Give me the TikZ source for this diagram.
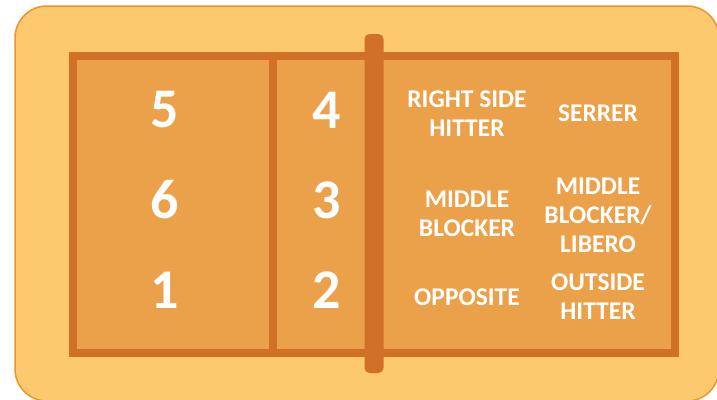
\documentclass[tikz,border=0pt]{standalone}
\usepackage{fontspec}
\setmainfont{Carlito}
\usepackage{tikz}
\usetikzlibrary{positioning, calc}
\definecolor{fieldfill}{RGB}{253, 201, 110}
\definecolor{fieldedge}{RGB}{240, 146, 42}
\definecolor{courtfill}{RGB}{235, 160, 74}
\definecolor{courtedge}{RGB}{209, 113, 39}

\begin{document}
\begin{tikzpicture}[
    x=1pt, y=-1pt,
    field/.style={draw=fieldedge, line width=1.5pt, fill=fieldfill, rounded corners=32pt},
    court/.style={draw=courtedge, line width=8pt, fill=courtfill, rectangle, minimum width=602pt, minimum height=297.5pt, inner sep=0pt, outer sep=0pt},
    netbar/.style={fill=courtedge, rectangle, rounded corners=5pt, minimum width=19pt, minimum height=339pt, inner sep=0pt},
    number/.style={text=white, font=\bfseries\fontsize{56}{60}\selectfont, inner sep=0pt},
    role/.style={text=white, align=center, font=\bfseries\fontsize{25.5}{29}\selectfont, inner sep=0pt}
]

    \useasboundingbox (0,0) rectangle (717,399);
    \clip (0,0) rectangle (717,399);
    \draw[field] (15,6) rectangle (719,401);

    \node[court] (court) at (374,204.25) {};
    \draw[courtedge, line width=7.5pt] ([xshift=200pt]court.north west) -- ([xshift=200pt]court.south west);
    \node[netbar] (net) at (374,203.5) {};

    % back row / front row numbers
    \node[number] (p5) at (165,110) {5};
    \node[number] (p6) at (165,200) {6};
    \node[number] (p1) at (165,290) {1};
    \node[number] (p4) at (327,110) {4};
    \node[number] (p3) at (327,200) {3};
    \node[number] (p2) at (327,290) {2};

    % player roles
    \node[role] (rsh) at (467,114) {RIGHT SIDE\\HITTER};
    \node[role] (serrer) at (598,113) {SERRER};
    \node[role] (mb) at (467,214) {MIDDLE\\BLOCKER};
    \node[role] (libero) at (598,215) {MIDDLE\\BLOCKER/\\LIBERO};
    \node[role] (opp) at (467,297) {OPPOSITE};
    \node[role] (oh) at (598,297) {OUTSIDE\\HITTER};

\end{tikzpicture}
\end{document}
